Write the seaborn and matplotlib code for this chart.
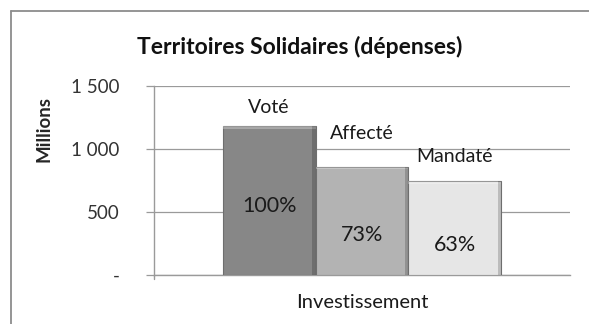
import matplotlib
matplotlib.use("Agg")
import matplotlib.pyplot as plt
from matplotlib.patches import Rectangle
from matplotlib.lines import Line2D
import seaborn as sns
import pandas as pd

# Data
category = ["Investissement"]
series = ["Voté", "Affecté", "Mandaté"]
values = [1180, 861, 743]
percent_labels = ["100%", "73%", "63%"]
yticks = [0, 500, 1000, 1500]
ytick_labels = ["-", "500", "1 000", "1 500"]

colors = ["#878787", "#b3b3b3", "#e6e6e6"]

sns.set_theme(style="white")
plt.rcParams["font.family"] = ["Lato", "DejaVu Sans"]

df = pd.DataFrame({"poste": category * len(series), "type": series, "montant": values})

fig = plt.figure(figsize=(5.89, 3.24), dpi=100)
ax = fig.add_axes([154 / 589, 1 - 275 / 324, (570 - 154) / 589, (275 - 86) / 324])

sns.barplot(data=df, x="poste", y="montant", hue="type", hue_order=series,
            palette=colors, width=0.67, saturation=1, ax=ax, legend=False,
            edgecolor="#6e6e6e", linewidth=0.8, zorder=3)

# Bevel highlight along the top and shade along the right edge of each bar
for bar in ax.patches:
    x0, w, h = bar.get_x(), bar.get_width(), bar.get_height()
    ax.add_patch(Rectangle((x0, h - 22), w, 22, facecolor="white", alpha=0.28,
                           edgecolor="none", zorder=4))
    ax.add_patch(Rectangle((x0 + w * 0.965, 0), w * 0.035, h, facecolor="black",
                           alpha=0.18, edgecolor="none", zorder=4))

# Series names above the bars and shares inside
name_offsets = [150, 265, 195]
pct_offsets = [-45, -110, -135]
for bar, name, pct, dn, dp in zip(ax.patches[:3], series, percent_labels,
                                 name_offsets, pct_offsets):
    cx = bar.get_x() + bar.get_width() / 2
    h = bar.get_height()
    ax.text(cx, h + dn, name, ha="center", va="center", fontsize=14, color="#1a1a1a")
    ax.text(cx, h / 2 + dp, pct, ha="center", va="center", fontsize=15.5, color="#1a1a1a",
            zorder=5)

ax.set_ylim(0, 1500)
ax.set_xlim(-0.5, 0.5)
ax.set_yticks(yticks)
ax.set_yticklabels(ytick_labels)
ax.yaxis.grid(True, color="#9a9a9a", linewidth=0.9, zorder=0)
ax.set_axisbelow(True)
for s in ["top", "right"]:
    ax.spines[s].set_visible(False)
for s in ["left", "bottom"]:
    ax.spines[s].set_color("#9a9a9a")
    ax.spines[s].set_linewidth(1.0)
ax.tick_params(axis="y", length=6, width=0.9, color="#9a9a9a", left=True,
               labelsize=13.5, labelcolor="#333333", pad=19)
ax.tick_params(axis="x", length=0, labelsize=14.5, labelcolor="#1a1a1a", pad=14)
ax.set_xlabel("")
ax.set_ylabel("Millions", fontsize=13.5, fontweight="bold")
ax.yaxis.set_label_coords(-0.243, 0.77)

# Extend the left axis line slightly below zero
ax.add_line(Line2D([-0.5, -0.5], [0, -30], color="#9a9a9a", linewidth=1.0,
                   clip_on=False))

fig.text(300 / 589, 1 - 47 / 324, "Territoires Solidaires (dépenses)", ha="center",
         va="center", fontsize=16.5, fontweight="bold", color="#111111")

# Chart frame
fig.add_artist(Line2D([11 / 589, 1.0], [1 - 11 / 324, 1 - 11 / 324],
                      transform=fig.transFigure, color="#8c8c8c", linewidth=1.3))
fig.add_artist(Line2D([11 / 589, 11 / 589], [0.0, 1 - 11 / 324],
                      transform=fig.transFigure, color="#8c8c8c", linewidth=1.3))

fig.savefig("out.png", dpi=100, facecolor="white")
